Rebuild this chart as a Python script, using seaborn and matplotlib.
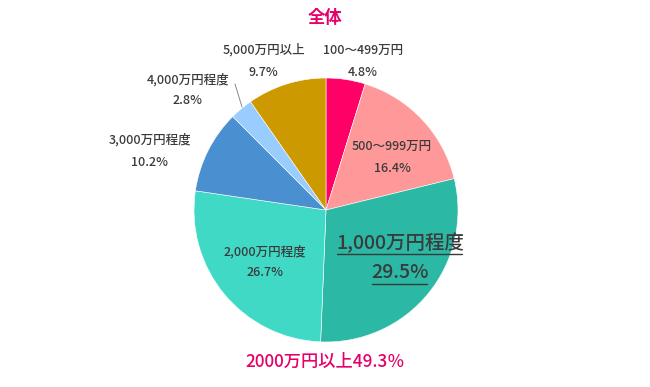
import matplotlib
matplotlib.use("Agg")
import matplotlib.pyplot as plt
import seaborn as sns

categories = ["100～499万円", "500～999万円", "1,000万円程度", "2,000万円程度",
              "3,000万円程度", "4,000万円程度", "5,000万円以上"]
values = [4.8, 16.4, 29.5, 26.7, 10.2, 2.8, 9.7]
pct_labels = ["4.8%", "16.4%", "29.5%", "26.7%", "10.2%", "2.8%", "9.7%"]
colors = ["#FF0066", "#FF9999", "#2BB8A5", "#40D9C6", "#4A8FD0", "#99CCFF", "#CC9900"]
title = "全体"
footer = "2000万円以上49.3％"

sns.set_theme(style="white")
plt.rcParams['font.family'] = ['Noto Sans CJK JP', 'DejaVu Sans']

W, H = 650, 387
fig = plt.figure(figsize=(6.5, 3.87), dpi=100)
ax = fig.add_axes([0, 0, 1, 1])

def Y(y):
    return H - y

ax.pie(values, colors=colors, startangle=90, counterclock=False,
       center=(326, Y(210)), radius=132,
       wedgeprops=dict(edgecolor="white", linewidth=0.4))
ax.set_xlim(0, W)
ax.set_ylim(0, H)
ax.set_aspect("equal")
ax.axis("off")

txt = "#3A3A3A"
# label layout (name position, pct position, size)
layout = {
    0: ((363, 50), (363, 72), 9),
    1: ((392, 146), (392, 168), 9),
    2: ((400, 243), (400, 272), 14),
    3: ((265, 252), (265, 273), 9),
    4: ((150, 140), (150, 162), 9),
    5: ((188, 80), (188, 101), 9),
    6: ((264, 50), (263, 72), 9),
}
for i, (npos, ppos, fs) in layout.items():
    ax.text(npos[0], Y(npos[1]), categories[i], ha="center", va="center",
            fontsize=fs, color=txt, fontweight="medium")
    ax.text(ppos[0], Y(ppos[1]), pct_labels[i], ha="center", va="center",
            fontsize=fs, color=txt, fontweight="medium")
    if i == 2:
        # underline
        ax.plot([337, 462], [Y(253.5), Y(253.5)], color=txt, lw=1.0)
        ax.plot([372, 427], [Y(283.5), Y(283.5)], color=txt, lw=1.0)

# leader line for 4,000万円程度
ax.plot([235, 242], [Y(84), Y(107)], color="#888888", lw=0.7)

ax.text(325, Y(18), title, ha="center", va="center", fontsize=12.5,
        fontweight="bold", color="#E6006A")
ax.text(325, Y(362), footer, ha="center", va="center", fontsize=12.4,
        fontweight="medium", color="#E6006A")

fig.savefig("out.png", dpi=100)
